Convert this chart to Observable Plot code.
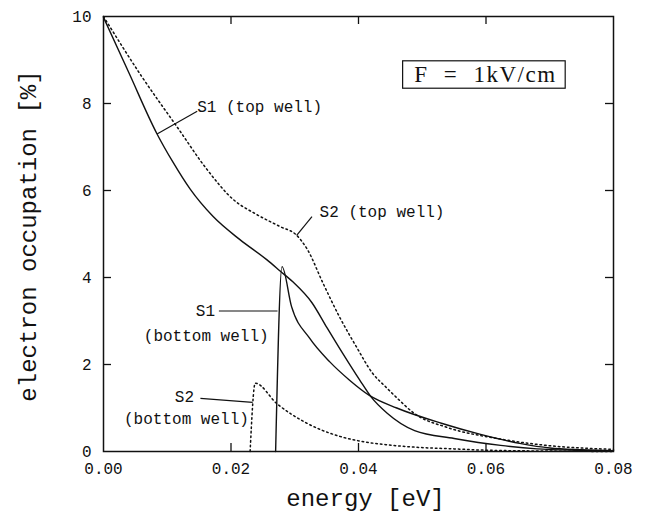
<!DOCTYPE html>
<html>
<head>
<meta charset="utf-8">
<script src="https://cdn.jsdelivr.net/npm/d3@7"></script>
<script src="https://cdn.jsdelivr.net/npm/@observablehq/plot@0.6"></script>
<style>
  html, body { margin: 0; padding: 0; background: #fff; }
</style>
</head>
<body>
<div id="chart"></div>
<script>
// ---- data ----
const s1TopX = [0, 0.004, 0.0084, 0.0109, 0.0136, 0.0172, 0.0214, 0.0256, 0.0277, 0.0297, 0.0327, 0.035, 0.0375, 0.0402, 0.042, 0.0445, 0.0488, 0.055, 0.0623, 0.068, 0.074, 0.08];
const s1TopY = [9.98, 8.7, 7.3, 6.65, 6.03, 5.4, 4.87, 4.41, 4.15, 3.9, 3.42, 2.86, 2.26, 1.64, 1.25, 0.88, 0.48, 0.3, 0.14, 0.06, 0.03, 0.02];

const s1BotX = [0.027, 0.028, 0.0295, 0.0323, 0.0355, 0.0386, 0.0417, 0.046, 0.053, 0.059, 0.0655, 0.07, 0.075, 0.08];
const s1BotY = [0, 4.25, 3.33, 2.61, 2.06, 1.64, 1.29, 1.0, 0.65, 0.4, 0.18, 0.08, 0.04, 0.02];

const s2TopX = [0, 0.006, 0.0116, 0.0162, 0.0203, 0.024, 0.0277, 0.0303, 0.032, 0.0344, 0.037, 0.0397, 0.0422, 0.0443, 0.0459, 0.0488, 0.054, 0.0617, 0.0695, 0.08];
const s2TopY = [10, 8.62, 7.45, 6.49, 5.8, 5.45, 5.17, 4.97, 4.64, 3.88, 3.1, 2.4, 1.8, 1.48, 1.25, 0.87, 0.55, 0.3, 0.14, 0.05];

const s2BotX = [0.023, 0.0238, 0.0272, 0.0319, 0.037, 0.041, 0.0448, 0.0488, 0.055, 0.06, 0.07, 0.08];
const s2BotY = [0, 1.57, 1.1, 0.65, 0.35, 0.22, 0.15, 0.1, 0.06, 0.03, 0.01, 0.0];

const xTicks = [0, 0.02, 0.04, 0.06, 0.08];
const yTicks = [0, 2, 4, 6, 8, 10];
const xInnerTicks = [0.02, 0.04, 0.06];
const yInnerTicks = [2, 4, 6, 8];

const xTitle = "energy [eV]";
const yTitle = "electron occupation [%]";
const boxLabel = "F = 1kV/cm";

// annotation labels (data coordinates)
const labelText = ["S1 (top well)", "S2 (top well)", "S1", "(bottom well)", "S2", "(bottom well)"];
const labelX    = [0.0147, 0.0339, 0.0175, 0.0259, 0.0142, 0.0228];
const labelY    = [7.92, 5.5, 3.23, 2.66, 1.25, 0.76];
const labelAnchor = ["start", "start", "end", "end", "end", "end"];

// leader lines
const leadX1 = [0.0084, 0.0303, 0.0181, 0.0152];
const leadY1 = [7.3, 4.97, 3.23, 1.22];
const leadX2 = [0.0147, 0.0327, 0.0273, 0.0234];
const leadY2 = [7.82, 5.4, 3.23, 1.13];

// box around the field label
const boxX = [0.047, 0.0725];
const boxY = [8.34, 8.97];

// ---- build tables ----
const zip = (xs, ys) => xs.map((x, i) => ({x, y: ys[i]}));
const s1Top = zip(s1TopX, s1TopY);
const s1Bot = zip(s1BotX, s1BotY);
const s2Top = zip(s2TopX, s2TopY);
const s2Bot = zip(s2BotX, s2BotY);
const labels = labelText.map((t, i) => ({t, x: labelX[i], y: labelY[i], a: labelAnchor[i]}));
const leads = leadX1.map((x1, i) => ({x1, y1: leadY1[i], x2: leadX2[i], y2: leadY2[i]}));

const W = 645, H = 519;
const mL = 103, mR = 32, mT = 16, mB = 68;
const fw = W - mL - mR, fh = H - mT - mB;
const TL = 8; // inner tick length
const ink = "#111";
const mono = "'Liberation Mono', 'DejaVu Sans Mono', monospace";

const chart = Plot.plot({
  width: W,
  height: H,
  marginLeft: mL,
  marginRight: mR,
  marginTop: mT,
  marginBottom: mB,
  style: {fontFamily: mono, fontSize: "16px", color: ink, background: "#fff"},
  x: {domain: [0, 0.08]},
  y: {domain: [0, 10]},
  marks: [
    Plot.frame({stroke: ink, strokeWidth: 1.5}),
    Plot.axisX({ticks: xTicks, tickFormat: d3.format(".2f"), tickSize: 0, tickPadding: 11, label: null, fontSize: 16}),
    Plot.axisY({ticks: yTicks, tickFormat: d => String(d), tickSize: 0, tickPadding: 12, label: null, fontSize: 16}),
    // inward ticks
    Plot.tickX(xInnerTicks, {x: d => d, insetTop: fh - TL, stroke: ink, strokeWidth: 1.3}),
    Plot.tickX(xInnerTicks, {x: d => d, insetBottom: fh - TL, stroke: ink, strokeWidth: 1.3}),
    Plot.tickY(yInnerTicks, {y: d => d, insetRight: fw - TL, stroke: ink, strokeWidth: 1.3}),
    Plot.tickY(yInnerTicks, {y: d => d, insetLeft: fw - TL, stroke: ink, strokeWidth: 1.3}),
    // curves
    Plot.line(s1Top, {x: "x", y: "y", stroke: ink, strokeWidth: 1.4, curve: "monotone-x"}),
    Plot.line(s1Bot, {x: "x", y: "y", stroke: ink, strokeWidth: 1.4, curve: "monotone-x"}),
    Plot.line(s2Top, {x: "x", y: "y", stroke: ink, strokeWidth: 1.5, strokeDasharray: "1.6,3", curve: "monotone-x"}),
    Plot.line(s2Bot, {x: "x", y: "y", stroke: ink, strokeWidth: 1.5, strokeDasharray: "1.6,3", curve: "monotone-x"}),
    // leaders & labels
    Plot.link(leads, {x1: "x1", y1: "y1", x2: "x2", y2: "y2", stroke: ink, strokeWidth: 1.2}),
    Plot.text(labels.filter(d => d.a === "start"), {x: "x", y: "y", text: "t", textAnchor: "start", fontSize: 16, fill: ink}),
    Plot.text(labels.filter(d => d.a === "end"), {x: "x", y: "y", text: "t", textAnchor: "end", fontSize: 16, fill: ink}),
    // field box
    Plot.rect([0], {x1: () => boxX[0], x2: () => boxX[1], y1: () => boxY[0], y2: () => boxY[1], fill: "none", stroke: ink, strokeWidth: 1.2}),
    Plot.text([boxLabel], {x: () => (boxX[0] + boxX[1]) / 2, y: () => (boxY[0] + boxY[1]) / 2, fontFamily: "'Liberation Serif', 'DejaVu Serif', serif", fontSize: 23, fill: ink}),
    // axis titles
    Plot.text([xTitle], {frameAnchor: "bottom", textAnchor: "middle", dx: 7, dy: 54, fontSize: 24, fill: ink}),
    Plot.text([yTitle], {frameAnchor: "left", textAnchor: "middle", rotate: -90, dx: -75, dy: 2, fontSize: 24, fill: ink})
  ]
});
// typeset the boxed field label with wide spaces around "="
d3.select(chart).selectAll("text")
  .filter(function() { return this.textContent === boxLabel; })
  .attr("letter-spacing", 1.5)
  .attr("word-spacing", 8)
  .attr("dx", 1);
document.getElementById("chart").appendChild(chart);
</script>
</body>
</html>
